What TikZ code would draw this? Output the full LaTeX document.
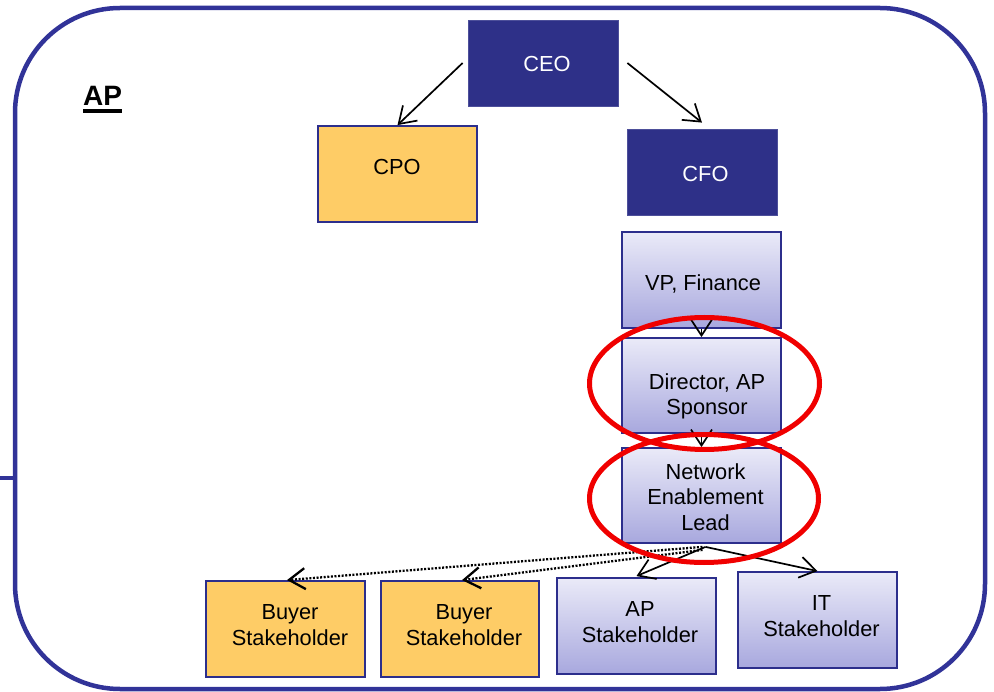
\documentclass[tikz,border=0pt]{standalone}
\usepackage{fontspec}
\setmainfont{Liberation Sans}
\usetikzlibrary{arrows.meta,shapes.geometric}

\definecolor{framenavy}{RGB}{49,51,152}
\definecolor{boxnavy}{RGB}{46,48,136}
\definecolor{edgenavy}{RGB}{44,46,140}
\definecolor{gold}{RGB}{254,204,102}
\definecolor{lavtop}{RGB}{234,234,248}
\definecolor{lavbot}{RGB}{168,168,222}
\definecolor{ringred}{RGB}{240,0,0}

\begin{document}
\begin{tikzpicture}[x=1pt,y=-1pt,
  boxbase/.style={rectangle, inner sep=0pt, minimum width=159pt, minimum height=96pt},
  execbox/.style={boxbase, fill=boxnavy, draw=boxnavy!85!white, line width=0.8pt,
                  minimum width=150pt, minimum height=86pt},
  goldbox/.style={boxbase, fill=gold, draw=edgenavy, line width=1.8pt},
  lavbox/.style={boxbase, top color=lavtop, bottom color=lavbot, draw=edgenavy, line width=1.8pt},
  % multi-line labels are placed by the baseline of their last line
  lbl/.style={anchor=base, inner sep=0pt, align=center, font=\fontsize{21.8}{25.5}\selectfont},
  whitelbl/.style={lbl, text=white},
  link/.style={line width=1.7pt, -{Straight Barb[length=16pt,width=21pt]}},
  dotlink/.style={link, line width=2.3pt, dash pattern=on 2pt off 1.6pt},
  ring/.style={ellipse, draw=ringred, line width=5pt, inner sep=0pt},
]
\useasboundingbox (0,0) rectangle (994,692);

% outer frame with its stub on the left
\draw[line width=4.5pt, framenavy, rounded corners=105pt] (15,8) rectangle (985,689);
\coordinate (stubout) at (0,478);
\coordinate (stubin) at (15,478);
\draw[line width=4pt, framenavy] (stubout) -- (stubin);

% section title
\node[anchor=base west, inner sep=0pt, font=\fontsize{28}{30}\selectfont\bfseries] (aplabel) at (83,106) {AP};
\draw[line width=3.3pt] ([yshift=-5pt]aplabel.base west) -- ([yshift=-5pt]aplabel.base east);

% executives
\node[execbox] (ceo) at (543,63) {};
\node[whitelbl] (ceo-t) at (547,72) {CEO};
\node[goldbox] (cpo) at (397.5,174) {};
\node[lbl] (cpo-t) at (397,175) {CPO};
\node[execbox] (cfo) at (702,172) {};
\node[whitelbl] (cfo-t) at (705.5,182) {CFO};

% finance chain
\node[lavbox] (vp) at (701.5,280) {};
\node[lbl] (vp-t) at (703,291) {VP, Finance};
\node[lavbox, minimum height=95pt] (dir) at (701.5,385.5) {};
\node[lbl] (dir-t) at (707,415) {Director, AP\\Sponsor};
\node[lavbox, minimum height=95pt] (nel) at (701.5,495.5) {};
\node[lbl] (nel-t) at (705.5,530) {Network\\Enablement\\Lead};

% stakeholders
\node[goldbox] (buyer1) at (285.5,629) {};
\node[lbl] (buyer1-t) at (290,645) {Buyer\\Stakeholder};
\node[goldbox, minimum width=158pt] (buyer2) at (460,629) {};
\node[lbl] (buyer2-t) at (464,645) {Buyer\\Stakeholder};
\node[lavbox] (apst) at (636.5,626) {};
\node[lbl] (apst-t) at (640,642) {AP\\Stakeholder};
\node[lavbox] (itst) at (817.5,620) {};
\node[lbl] (itst-t) at (821.5,636) {IT\\Stakeholder};

% reporting lines
\draw[link] ([xshift=-5pt]ceo.west) -- (cpo.north);
\draw[link] ([xshift=9pt]ceo.east) -- ([yshift=6pt]cfo.north);
\draw[link] (vp.south) -- (dir.north);
\draw[link] (dir.south) -- (nel.north);
\coordinate (fan) at ([xshift=4pt,yshift=-3pt]nel.south);
\draw[dotlink] ([xshift=-3pt]fan) -- ([xshift=1.5pt]buyer1.north);
\draw[dotlink] ([xshift=-3pt,yshift=-3pt]fan) -- ([xshift=2pt]buyer2.north);
\draw[link] (fan) -- ([yshift=1pt]apst.north);
\draw[link] (fan) -- (itst.north);

% highlight rings
\node[ring, minimum width=230pt, minimum height=132pt] (ring1) at (704.5,383.5) {};
\node[ring, minimum width=229pt, minimum height=128pt] (ring2) at (704,498.5) {};
\end{tikzpicture}
\end{document}
